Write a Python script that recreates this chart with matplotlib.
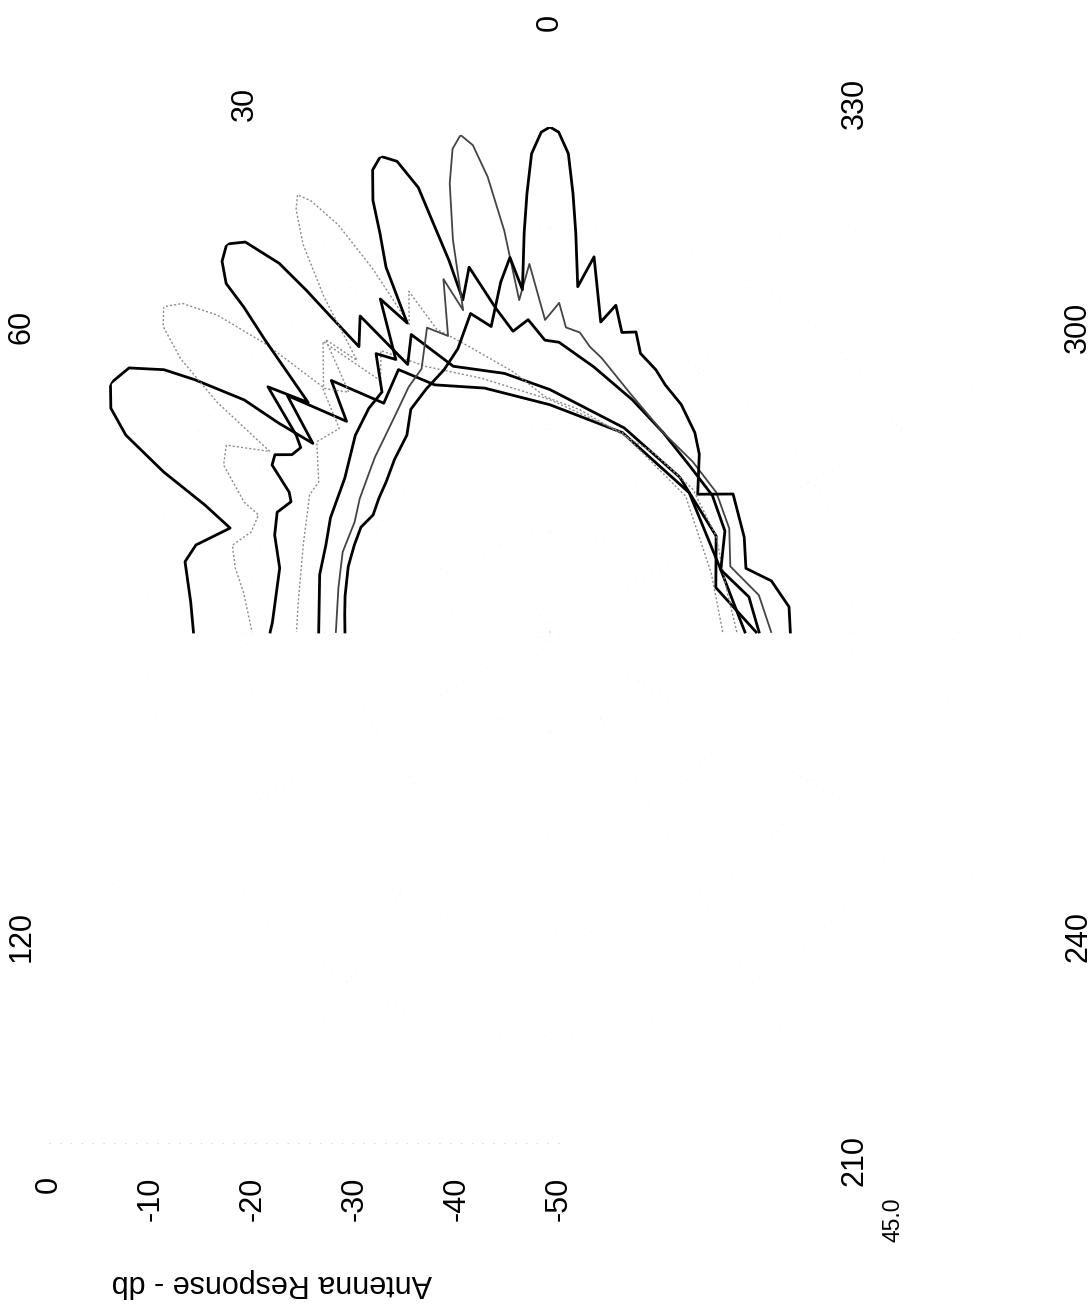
import numpy as np
import matplotlib
matplotlib.use('Agg')
import matplotlib.pyplot as plt

plt.rcParams['font.family'] = ['Liberation Sans', 'DejaVu Sans']

# beam patterns: angle in degrees (0 = boresight, CCW), response in dB
theta_a = [-90, -70, -45, -20, 0, 15, 25, 30, 36, 41, 44, 48, 51.5, 52.4, 52.8,
           54.6, 55.8, 57.9, 60.5, 63, 65.1, 67.5, 69.8, 72, 76.2, 79.1, 85.2, 90]
db_a = [-30.7, -32, -30.5, -29, -27.5, -25, -23, -20, -22, -17, -21, -15, -20, -16.1, -12,
        -6.9, -3.8, -0.8, 0, -1.2, -3.7, -8.6, -13.6, -16.7, -13.9, -13.2, -14.3, -14.7]

theta_b = [-90, -70, -45, -20, 0, 15, 25, 31, 34, 38, 42.8, 44.6, 46.4, 48.2, 49.9,
           51.7, 53.5, 55.4, 57.2, 60, 62.9, 67, 68.1, 71.5, 74.7, 78.5, 82.6, 90]
db_b = [-32.9, -33, -31, -29, -27, -24, -21, -17.5, -20, -13.5, -17, -10, -4.5, -1.2, 0,
        -1.2, -4.5, -10, -17, -13, -13.7, -17.1, -18.9, -18.8, -17.4, -18.2, -19.4, -20.5]

theta_c = [-90, -75, -60, -40, -20, 0, 10, 20, 25, 28, 31, 33.8, 34.8, 35.5, 36.3,
           38, 39.8, 41.5, 42.9, 43.3, 44.3, 46.5, 49, 52.2, 53.5, 55.5, 57.2, 59, 61.8,
           63.3, 66.3, 70.6, 76.7, 88, 90]
db_c = [-29.6, -33, -31, -30, -28.5, -26, -24, -22, -17.5, -20, -13.5, -16, -12, -8.4, -4.7,
        -1, 0, -1, -2.9, -5.8, -9.6, -17, -13, -18.2, -19.3, -19, -17.6, -17.9, -20.7,
        -21.3, -20.5, -21.1, -22.5, -22.5, -22.3]

theta_d = [-90, -75, -60, -45, -30, -17.8, -7.7, 1.2, 8, 13, 17, 20.5, 22.5, 24.6, 26,
           27.5, 29, 30, 31, 32.5, 34, 35.4, 37.5, 40, 43, 46, 50.8, 57, 60.3, 70.6, 83.2, 90]
db_d = [-31.5, -32, -31, -30, -29.5, -29, -27.8, -26.7, -24, -22, -20, -18, -13.5, -16.5, -10,
        -4.5, -1.2, 0, -1.2, -4.5, -10, -17, -13.5, -19, -17, -21, -20.2, -22.7, -22.6, -24.1,
        -24.9, -24.9]

theta_e = [-90, -80, -70, -60, -50, -40, -29.6, -19.5, -9.4, -1.8, 1, 4, 7, 9.5, 12.5,
           14.7, 15.2, 16, 16.5, 18, 19.6, 21, 22.3, 23.1, 24.2, 24.8, 27, 29.5, 32, 35,
           39, 44.7, 53.1, 62.5, 68.8, 76, 90]
db_e = [-29.3, -30, -32, -30, -29, -28.5, -27.3, -25.6, -23.4, -21.3, -21.1, -19, -20, -17.5, -13,
        -16, -11.9, -7.5, -4.1, -1, 0, -1, -3.8, -7.1, -10.4, -16.3, -13, -19, -17.5, -21,
        -21.5, -22.6, -24.6, -25.5, -26.2, -26.5, -27.1]

theta_f = [-90, -80, -70, -60, -50, -40, -29.6, -18.3, -10.7, -8, -5.7, -3, -1.6, 0.9, 3.2,
           5.3, 6.5, 7.8, 9, 10.2, 11.4, 12.6, 13.9, 15.1, 16.8, 19, 22, 26, 30, 35,
           39.8, 45, 49, 55, 60.6, 68.9, 78.2, 90]
db_f = [-28.1, -29, -31, -29.5, -28.5, -28, -27.3, -25, -22.4, -21.5, -20.2, -19.8, -17.4, -19.1, -13.5,
        -17, -10, -4.5, -1.2, 0, -1.2, -4.5, -10, -17, -13.5, -19, -17.5, -21, -22, -23.5,
        -24.6, -25.5, -26.2, -27, -27.8, -28, -28.6, -28.8]

theta_g = [-90, -84, -77, -72, -64, -53, -47, -40, -36, -30, -25, -22, -18, -16, -13.5,
           -11.4, -9.3, -6.7, -4.6, -3.7, -3, -2.2, -1, 0, 1, 2.2, 3, 3.7, 4.6, 6.1,
           8, 10.9, 14, 18, 22, 27, 32, 36, 42, 47.5, 52, 56.5, 61, 66, 72, 80, 85, 90]
db_g = [-26.2, -26.2, -27.5, -29.6, -28.6, -27.3, -30, -27, -25.6, -24, -23, -22, -21, -19.1, -19.5,
        -17, -18.9, -12.6, -15.7, -10.4, -6.5, -2.6, -0.5, 0, -0.5, -2.6, -6.5, -10.4, -16, -12.7,
        -15, -19.2, -17.5, -20.5, -22, -23, -24, -25.9, -27, -28, -28.5, -29, -28.6, -28.8, -29,
        -29.4, -29.6, -29.7]

angle_labels = [0, 30, 60, 120, 210, 240, 300, 330]
db_labels = [0, -10, -20, -30, -40, -50]

curves = [
    (theta_a, db_a, 'black', 2.0, '-'),
    (theta_b, db_b, '#8c8c8c', 1.0, (0, (1.5, 1.5))),
    (theta_c, db_c, 'black', 2.0, '-'),
    (theta_d, db_d, '#8c8c8c', 1.0, (0, (1.5, 1.5))),
    (theta_e, db_e, 'black', 2.0, '-'),
    (theta_f, db_f, '#444444', 1.3, '-'),
    (theta_g, db_g, 'black', 2.0, '-'),
]

fig = plt.figure(figsize=(10.91, 13.04), dpi=100)
ax = fig.add_axes([0.0412, 0.1281, 0.9258, 0.7745], projection='polar')
ax.set_theta_zero_location('N')
ax.set_theta_direction(1)
ax.set_rlim(-50, 0)

for th, db, c, lw, ls in curves:
    ax.plot(np.deg2rad(th), db, color=c, lw=lw, ls=ls)

ax.set_xticks(np.deg2rad(np.arange(0, 360, 30)))
ax.set_xticklabels([])
ax.set_yticks([-40, -30, -20, -10, 0])
ax.set_yticklabels([])
ax.grid(True, color='#e4e4e4', lw=0.5, ls=(0, (1, 12)))
ax.spines['polar'].set_visible(False)

for a in angle_labels:
    ax.text(np.deg2rad(a), 10.4, str(a), rotation=90, ha='center', va='center',
            fontsize=22, clip_on=False)

# radial scale drawn as a separate strip under the plot
sc = fig.add_axes([49 / 1091, (1304 - 1143) / 1304, 510 / 1091, 0.05])
sc.patch.set_alpha(0)
sc.set_xlim(0, -50)
sc.set_xticks(db_labels)
sc.set_xticklabels([str(v) for v in db_labels], rotation=90, fontsize=22)
sc.tick_params(axis='x', length=0, pad=24)
sc.set_yticks([])
for s in ['top', 'left', 'right']:
    sc.spines[s].set_visible(False)
sc.spines['bottom'].set_color('#d8d8d8')
sc.spines['bottom'].set_linewidth(0.6)
sc.spines['bottom'].set_linestyle((0, (1, 12)))
sc.set_xlabel('Antenna Response - db', fontsize=22, rotation=180)
sc.xaxis.label.set_va('center')
sc.xaxis.set_label_coords(0.437, -(1283 - 1143) / (0.05 * 1304))

fig.text(893 / 1091, 1 - 1220 / 1304, '45.0', rotation=90, ha='center', va='center',
         fontsize=16.5)

fig.savefig('out.png', dpi=100)
